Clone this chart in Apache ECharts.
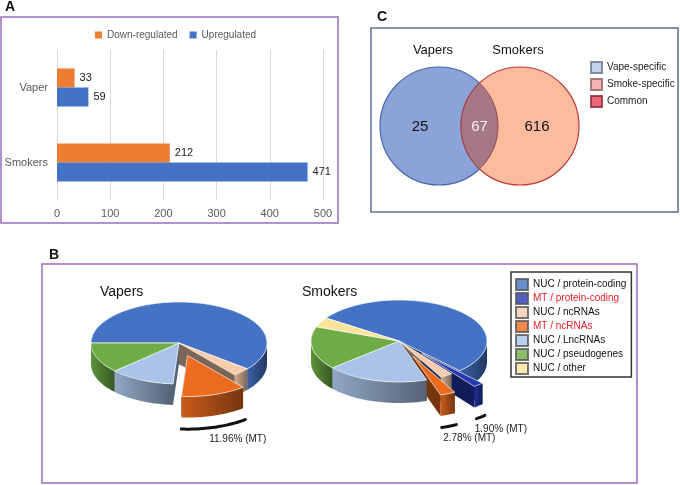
<!DOCTYPE html>
<html>
<head>
<meta charset="utf-8"/>
<title>Vapers vs Smokers</title>
<script src="https://cdn.jsdelivr.net/npm/echarts@6/dist/echarts.min.js"></script>
<style>html,body{margin:0;padding:0;background:#fff;}</style>
</head>
<body>
<div id="main" style="width:680px;height:485px;"></div>
<script>
// ---- panel A : number of regulated genes ----
var groups = ['Smokers', 'Vaper'];
var downRegulated = [212, 33];
var upRegulated = [471, 59];
var xTicks = [0, 100, 200, 300, 400, 500];

// ---- panel B : gene type composition ----
var geneTypes = ['NUC / protein-coding', 'MT / protein-coding', 'NUC / ncRNAs', 'MT / ncRNAs',
                 'NUC / LncRNAs', 'NUC / pseudogenes', 'NUC / other'];
var typeColors = ['#4472C4', '#2438B0', '#F8CBAD', '#EC6B1E', '#A9C4E8', '#6EAD46', '#FBE39C'];
var vaperCounts = [56, 0, 3, 11, 11, 11, 0];
var smokerCounts = [365, 13, 16, 19, 128, 116, 26];

// ---- panel C : overlap ----
var vennSets = ['Vapers', 'Smokers'];
var vennCounts = [25, 67, 616];
var vennLegend = ['Vape-specific', 'Smoke-specific', 'Common'];
var vennLegendColors = ['#B4C7E7', '#F4A3A3', '#E9415D'];

var FONT = '"Liberation Sans", Arial, sans-serif';
var RX = 88, RY = 41, DEPTH = 21;
var pies = [
    {name: 'Vapers', counts: vaperCounts, cx: 179, cy: 343, start: 180, explode: 0.32, titleX: 100},
    {name: 'Smokers', counts: smokerCounts, cx: 399, cy: 341, start: 214, explode: 0.4, titleX: 302}
];

function shade(hex, f) {
    var n = parseInt(hex.slice(1), 16);
    return 'rgb(' + Math.round(((n >> 16) & 255) * f) + ',' +
        Math.round(((n >> 8) & 255) * f) + ',' + Math.round((n & 255) * f) + ')';
}

function arcPts(cx, cy, b1, b2, k, dy) {
    var pts = [], n = Math.max(2, Math.ceil((b2 - b1) / 0.03));
    for (var j = 0; j <= n; j++) {
        var a = b1 + (b2 - b1) * j / n;
        pts.push([cx + RX * k * Math.cos(a), cy + RY * k * Math.sin(a) + dy]);
    }
    return pts;
}

// tilted pie: one data item = one slice, depth sorted with z2
function pieRenderer(pie) {
    var total = pie.counts.reduce(function (s, v) { return s + v; }, 0);
    var before = [], acc = 0;
    pie.counts.forEach(function (v) { before.push(acc); acc += v; });
    return function (params, api) {
        var i = params.dataIndex, v = api.value(0);
        if (!v) return null;
        var color = typeColors[i];
        var a1 = ((pie.start + before[i] / total * 360) % 360) * Math.PI / 180;
        var a2 = a1 + v / total * 2 * Math.PI;
        var mid = (a1 + a2) / 2;
        var isMT = geneTypes[i].indexOf('MT') === 0;
        var ex = isMT ? pie.explode : 0;
        var cx = pie.cx + ex * RX * Math.cos(mid), cy = pie.cy + ex * RY * Math.sin(mid);
        var kids = [];
        [a1, a2].forEach(function (a) {
            var px = cx + RX * Math.cos(a), py = cy + RY * Math.sin(a);
            kids.push({type: 'polygon', z2: cy + 0.5 * RY * Math.sin(a),
                shape: {points: [[cx, cy], [px, py], [px, py + DEPTH], [cx, cy + DEPTH]]},
                style: {fill: shade(color, 0.5)}});
        });
        [[0, Math.PI], [2 * Math.PI, 3 * Math.PI]].forEach(function (r) {
            var lo = Math.max(a1, r[0]), hi = Math.min(a2, r[1]);
            if (hi <= lo) return;
            var top = arcPts(cx, cy, lo, hi, 1, 0);
            var bot = arcPts(cx, cy, lo, hi, 1, DEPTH).reverse();
            kids.push({type: 'polygon', z2: cy + RY * Math.sin((lo + hi) / 2),
                shape: {points: top.concat(bot)},
                style: {fill: new echarts.graphic.LinearGradient(0, 0, 1, 0, [
                    {offset: 0, color: shade(color, 0.85)}, {offset: 1, color: shade(color, 0.5)}])}});
        });
        kids.push({type: 'polygon', z2: 1000,
            shape: {points: [[cx, cy]].concat(arcPts(cx, cy, a1, a2, 1, 0))},
            style: {fill: color, stroke: 'rgba(255,255,255,0.85)', lineWidth: 0.8}});
        if (isMT) {
            var curve = arcPts(cx, cy, a1, a2, 1.04, DEPTH + 10);
            var m = curve[Math.floor(curve.length / 2)];
            kids.push({type: 'polyline', z2: 1001, shape: {points: curve},
                style: {stroke: '#111', lineWidth: 3, lineCap: 'round', fill: null}});
            kids.push({type: 'text', z2: 1001, style: {x: m[0] - 6, y: m[1] + 12,
                text: (v / total * 100).toFixed(2) + '% (MT)', fill: '#222',
                font: '10px ' + FONT, verticalAlign: 'middle'}});
        }
        return {type: 'group', children: kids};
    };
}

var venn = {x: [439, 520], y: 126, r: 59};
function vennRender(params, api) {
    var L = venn.x[0], R = venn.x[1], y = venn.y, r = venn.r;
    var t = Math.acos((R - L) / 2 / r);
    var lens = [], n = 40, j;
    for (j = 0; j <= n; j++) {
        var a = -t + 2 * t * j / n;
        lens.push([L + r * Math.cos(a), y + r * Math.sin(a)]);
    }
    for (j = 0; j <= n; j++) {
        var b = Math.PI - t + 2 * t * j / n;
        lens.push([R + r * Math.cos(b), y + r * Math.sin(b)]);
    }
    var txt = function (x, yy, s, fill, size) {
        return {type: 'text', style: {x: x, y: yy, text: s, fill: fill, align: 'center',
            verticalAlign: 'middle', font: size + 'px ' + FONT}};
    };
    return {type: 'group', children: [
        {type: 'circle', shape: {cx: L, cy: y, r: r}, style: {fill: '#8AA4D9', stroke: '#4865A6', lineWidth: 1.2}},
        {type: 'circle', shape: {cx: R, cy: y, r: r}, style: {fill: '#FABC9D', stroke: '#C0393B', lineWidth: 1.2}},
        {type: 'polygon', shape: {points: lens}, style: {fill: '#A67886', stroke: '#9A3F50', lineWidth: 1}},
        txt(L - 6, 50, vennSets[0], '#111', 13),
        txt(R - 2, 50, vennSets[1], '#111', 13),
        txt(L - 19, y + 1, String(api.value(0)), '#111', 15),
        txt((L + R) / 2, y + 1, String(api.value(1)), '#F5EFF1', 15),
        txt(R + 17, y + 1, String(api.value(2)), '#111', 15)
    ]};
}

var chart = echarts.init(document.getElementById('main'), null, {renderer: 'canvas'});

var series = [
    {name: 'Down-regulated', type: 'bar', data: downRegulated, barWidth: 19, barGap: '0%',
        itemStyle: {color: '#ED7D31'},
        label: {show: true, position: 'right', distance: 5, fontSize: 11, color: '#1a1a1a'}},
    {name: 'Upregulated', type: 'bar', data: upRegulated, barWidth: 19, barGap: '0%',
        itemStyle: {color: '#4472C4'},
        label: {show: true, position: 'right', distance: 5, fontSize: 11, color: '#1a1a1a'}}
];
pies.forEach(function (p) {
    series.push({name: p.name, type: 'custom', coordinateSystem: 'none',
        renderItem: pieRenderer(p), data: p.counts.map(function (v) { return [v]; }), silent: true});
});
series.push({name: 'venn', type: 'custom', coordinateSystem: 'none', renderItem: vennRender,
    data: [vennCounts], silent: true});
// legend-only entries
geneTypes.forEach(function (g, i) {
    series.push({name: g, type: 'scatter', data: [],
        itemStyle: {color: typeColors[i], borderColor: '#555', borderWidth: 0.8}});
});
vennLegend.forEach(function (g, i) {
    series.push({name: g, type: 'scatter', data: [],
        itemStyle: {color: vennLegendColors[i], borderColor: shade(vennLegendColors[i], 0.6), borderWidth: 0.8}});
});

var option = {
    animation: false,
    textStyle: {fontFamily: FONT},
    grid: {left: 57, right: 357, top: 50, bottom: 285},
    xAxis: {type: 'value', min: xTicks[0], max: xTicks[xTicks.length - 1], interval: xTicks[1] - xTicks[0],
        axisLine: {show: false}, axisTick: {show: false},
        axisLabel: {color: '#595959', fontSize: 11, margin: 8},
        splitLine: {lineStyle: {color: '#D9D9D9'}}},
    yAxis: {type: 'category', data: groups,
        axisLine: {lineStyle: {color: '#D9D9D9'}}, axisTick: {show: false},
        axisLabel: {color: '#595959', fontSize: 11, margin: 9}},
    legend: [
        {data: ['Down-regulated', 'Upregulated'], left: 90, top: 25, icon: 'rect',
            itemWidth: 7, itemHeight: 7, itemGap: 12, selectedMode: false,
            textStyle: {fontSize: 10, color: '#595959'}},
        {data: geneTypes.map(function (g) {
                return {name: g, textStyle: {color: g.indexOf('MT') === 0 ? '#E8202A' : '#111'}};
            }),
            orient: 'vertical', left: 511, top: 272, icon: 'rect',
            padding: [6, 5, 2, 4], itemWidth: 12, itemHeight: 11, itemGap: 1,
            borderColor: '#333', borderWidth: 1.5, selectedMode: false,
            textStyle: {fontSize: 10}},
        {data: vennLegend, orient: 'vertical', left: 585, top: 56, icon: 'rect',
            itemWidth: 11, itemHeight: 11, itemGap: 4, selectedMode: false,
            textStyle: {fontSize: 10, color: '#222'}}
    ],
    graphic: [
        {type: 'rect', silent: true, shape: {x: 1, y: 17, width: 337, height: 206},
            style: {fill: 'none', stroke: '#9B6DC2', lineWidth: 1.5}},
        {type: 'rect', silent: true, shape: {x: 371, y: 28, width: 307, height: 184},
            style: {fill: 'none', stroke: '#5B7191', lineWidth: 1.5}},
        {type: 'rect', silent: true, shape: {x: 42, y: 264, width: 595, height: 219},
            style: {fill: 'none', stroke: '#9B6DC2', lineWidth: 1.5}},
        {type: 'text', left: 5, top: 0, style: {text: 'A', font: 'bold 14px ' + FONT, fill: '#111'}},
        {type: 'text', left: 377, top: 10, style: {text: 'C', font: 'bold 14px ' + FONT, fill: '#111'}},
        {type: 'text', left: 49, top: 248, style: {text: 'B', font: 'bold 14px ' + FONT, fill: '#111'}},
        {type: 'text', left: pies[0].titleX, top: 285, style: {text: pies[0].name, font: '14px ' + FONT, fill: '#111'}},
        {type: 'text', left: pies[1].titleX, top: 285, style: {text: pies[1].name, font: '14px ' + FONT, fill: '#111'}}
    ],
    series: series
};
chart.setOption(option);
</script>
</body>
</html>
